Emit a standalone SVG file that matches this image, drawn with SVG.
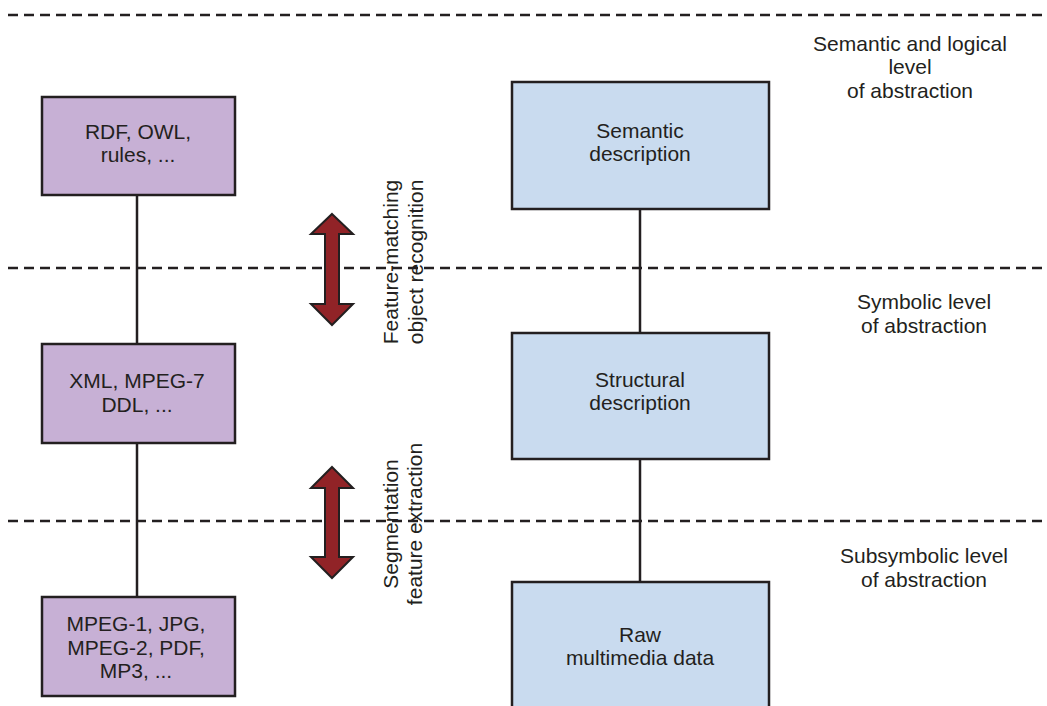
<svg xmlns="http://www.w3.org/2000/svg" width="1047" height="706" viewBox="0 0 1047 706">
<style>
.bg{fill:#ffffff}
.dash{stroke:#231F20;stroke-width:2.5;stroke-dasharray:10 6;fill:none}
.pbox{fill:#C7B0D5;stroke:#231F20;stroke-width:2.5}
.bbox{fill:#C9DBEF;stroke:#231F20;stroke-width:2.5}
.conn{stroke:#231F20;stroke-width:2.5;fill:none}
.arrow{fill:#912327;stroke:#231F20;stroke-width:2;stroke-linejoin:miter}
text{font-family:"Liberation Sans",Arial,sans-serif;font-size:21px;fill:#231F20;text-anchor:middle}
</style>
<rect class="bg" x="0" y="0" width="1047" height="706"/>
<g id="levels">
<line class="dash" x1="8" y1="15" x2="1047" y2="15"/>
<line class="dash" x1="8" y1="268" x2="1047" y2="268"/>
<line class="dash" x1="8" y1="521" x2="1047" y2="521"/>
</g>
<g id="connectors">
<line class="conn" x1="137" y1="195" x2="137" y2="344"/>
<line class="conn" x1="137" y1="443" x2="137" y2="597"/>
<line class="conn" x1="640" y1="209" x2="640" y2="333"/>
<line class="conn" x1="640" y1="459" x2="640" y2="582"/>
</g>
<g id="rdf">
<rect class="pbox" x="42" y="97" width="193" height="98"/>
<text x="138" y="139">RDF, OWL,</text>
<text x="138" y="162">rules, ...</text>
</g>
<g id="xml">
<rect class="pbox" x="42" y="344" width="193" height="99"/>
<text x="137" y="388">XML, MPEG-7</text>
<text x="137" y="412">DDL, ...</text>
</g>
<g id="mpeg">
<rect class="pbox" x="42" y="597" width="193" height="99"/>
<text x="136" y="631">MPEG-1, JPG,</text>
<text x="136" y="655">MPEG-2, PDF,</text>
<text x="136" y="678">MP3, ...</text>
</g>
<g id="semantic">
<rect class="bbox" x="512" y="82" width="257" height="127"/>
<text x="640" y="138">Semantic</text>
<text x="640" y="161">description</text>
</g>
<g id="structural">
<rect class="bbox" x="512" y="333" width="257" height="126"/>
<text x="640" y="387">Structural</text>
<text x="640" y="410">description</text>
</g>
<g id="raw">
<rect class="bbox" x="512" y="582" width="257" height="130"/>
<text x="640" y="642">Raw</text>
<text x="640" y="665">multimedia data</text>
</g>
<g id="arrow-upper">
<polygon class="arrow" points="332,214 353,234 339,234 339,304 353,304 332,325 311,304 325,304 325,234 311,234"/>
<text transform="translate(398,262) rotate(-90)" x="0" y="0">Feature-matching</text>
<text transform="translate(398,262) rotate(-90)" x="0" y="25">object recognition</text>
</g>
<g id="arrow-lower">
<polygon class="arrow" points="332,467 353,488 339,488 339,557 353,557 332,578 311,557 325,557 325,488 311,488"/>
<text transform="translate(398,524) rotate(-90)" x="0" y="0">Segmentation</text>
<text transform="translate(398,524) rotate(-90)" x="0" y="24">feature extraction</text>
</g>
<g id="level-labels">
<text x="910" y="51">Semantic and logical</text>
<text x="910" y="74">level</text>
<text x="910" y="98">of abstraction</text>
<text x="924" y="309">Symbolic level</text>
<text x="924" y="333">of abstraction</text>
<text x="924" y="563">Subsymbolic level</text>
<text x="924" y="587">of abstraction</text>
</g>
</svg>
